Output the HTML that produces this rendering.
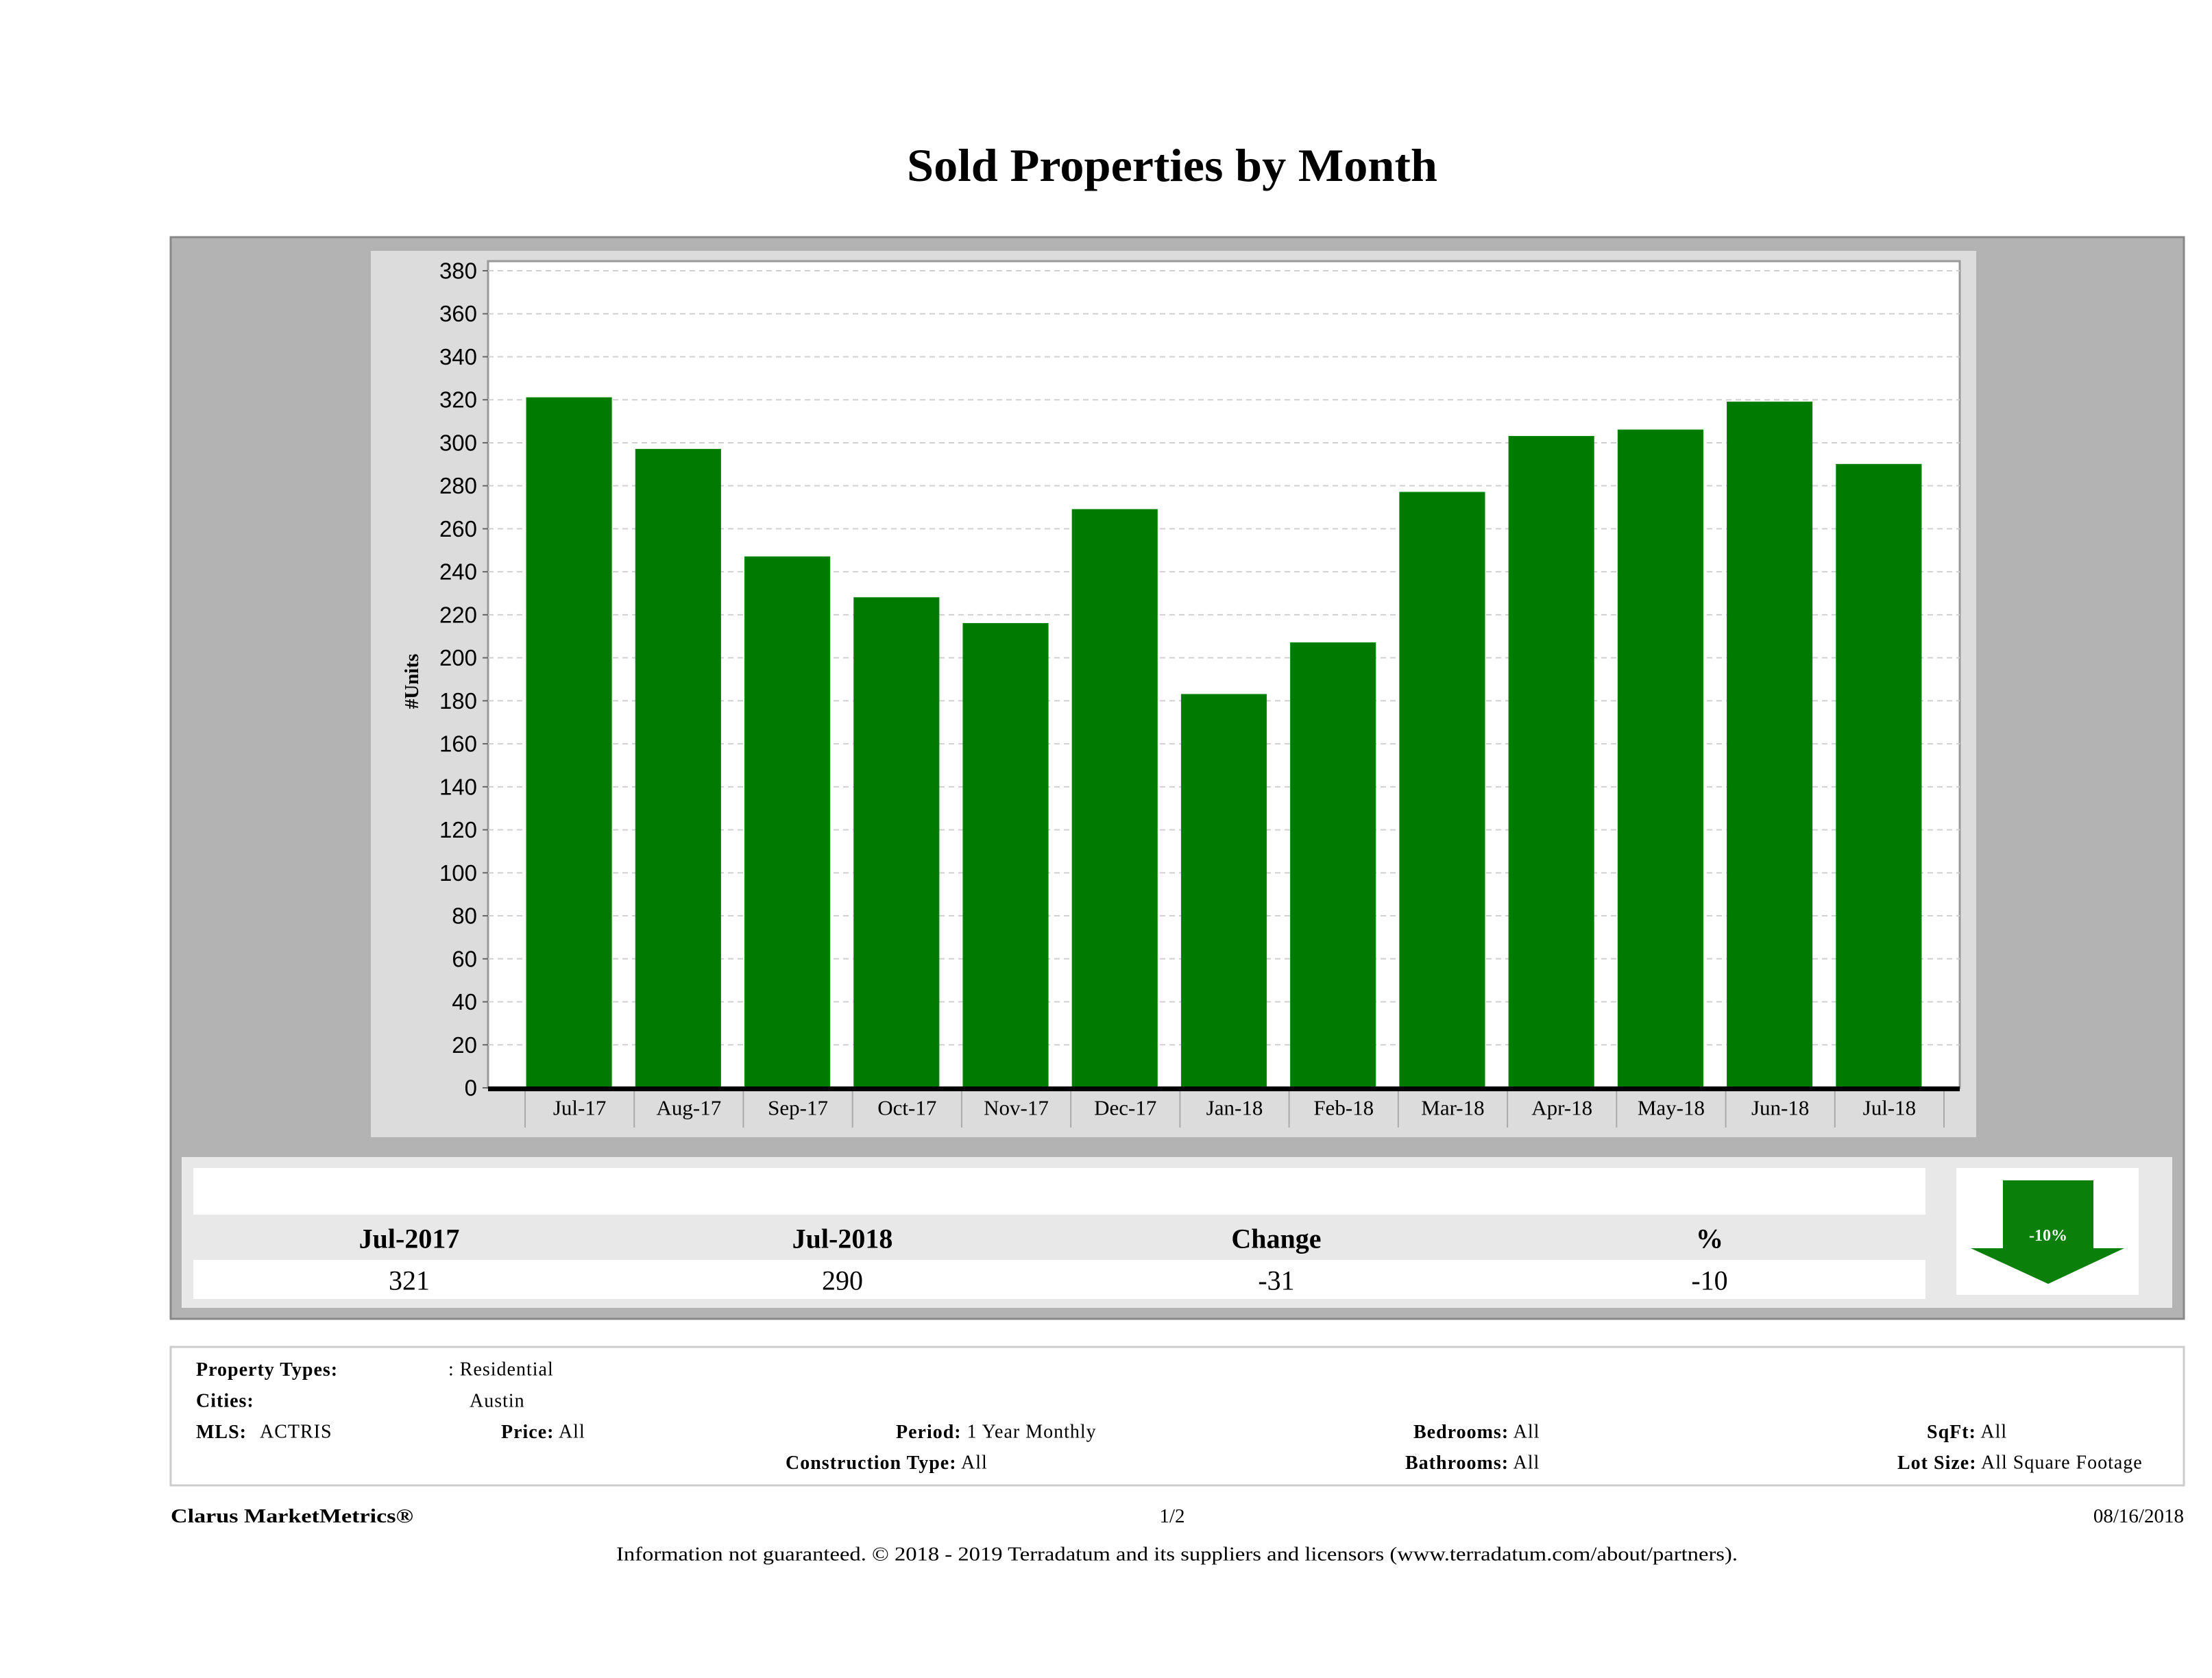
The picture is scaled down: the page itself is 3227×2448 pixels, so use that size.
<!DOCTYPE html>
<html><head><meta charset="utf-8"><style>
html,body{margin:0;padding:0;background:#fff;}
svg{display:block;}
text{font-family:"Liberation Serif",serif;}
</style></head><body>
<svg id="chart" width="3227" height="2448" viewBox="0 0 3227 2448" xmlns="http://www.w3.org/2000/svg">
<text x="1710" y="241" text-anchor="middle" dominant-baseline="central" font-size="68" font-weight="bold" fill="#000" textLength="774" lengthAdjust="spacingAndGlyphs">Sold Properties by Month</text>
<rect x="249" y="346" width="2937" height="1578" fill="#b3b3b3" stroke="#888" stroke-width="3"/>
<rect x="541" y="366" width="2342" height="1293" fill="#dcdcdc"/>
<rect x="712" y="381" width="2147" height="1206" fill="#fff" stroke="#999" stroke-width="3"/>
<g id="grid"></g>
<g id="bars"></g>
<g id="yaxis"></g>
<g id="xaxis"></g>
<text transform="translate(601,994) rotate(-90)" text-anchor="middle" dominant-baseline="central" font-size="29" font-weight="bold">#Units</text>

<rect x="265" y="1688" width="2904" height="220" fill="#e8e8e8"/>
<rect x="282" y="1704" width="2527" height="68" fill="#fff"/>
<rect x="282" y="1838" width="2527" height="57" fill="#fff"/>
<g font-size="40" font-weight="bold" text-anchor="middle" dominant-baseline="central">
<text x="597" y="1807">Jul-2017</text>
<text x="1229" y="1807">Jul-2018</text>
<text x="1862" y="1807">Change</text>
<text x="2494" y="1807">%</text>
</g>
<g font-size="40" text-anchor="middle" dominant-baseline="central">
<text x="597" y="1868">321</text>
<text x="1229" y="1868">290</text>
<text x="1862" y="1868">-31</text>
<text x="2494" y="1868">-10</text>
</g>
<rect x="2854" y="1704" width="266" height="185" fill="#fff"/>
<polygon points="2922,1722 3054,1722 3054,1821 3099,1821 2988,1873 2875,1821 2922,1821" fill="#0a7f0a"/>
<text x="2988" y="1803" text-anchor="middle" dominant-baseline="central" font-size="24" font-weight="bold" fill="#fff">-10%</text>

<rect x="249" y="1965" width="2937" height="202" fill="#fff" stroke="#ccc" stroke-width="3"/>
<g font-size="28" dominant-baseline="central" letter-spacing="1">
<text x="286" y="1998"><tspan font-weight="bold">Property Types:</tspan></text>
<text x="654" y="1998">: Residential</text>
<text x="286" y="2044" font-weight="bold">Cities:</text>
<text x="685" y="2044">Austin</text>
<text x="286" y="2089"><tspan font-weight="bold">MLS:</tspan></text>
<text x="379" y="2089">ACTRIS</text>
<text x="731" y="2089"><tspan font-weight="bold">Price:</tspan> All</text>
<text x="1307" y="2089"><tspan font-weight="bold">Period:</tspan> 1 Year Monthly</text>
<text x="2062" y="2089"><tspan font-weight="bold">Bedrooms:</tspan> All</text>
<text x="2811" y="2089"><tspan font-weight="bold">SqFt:</tspan>  All</text>
<text x="1146" y="2134"><tspan font-weight="bold">Construction Type:</tspan> All</text>
<text x="2050" y="2134"><tspan font-weight="bold">Bathrooms:</tspan> All</text>
<text x="2768" y="2134"><tspan font-weight="bold">Lot Size:</tspan>  All Square Footage</text>
</g>
<g font-size="29" dominant-baseline="central">
<text x="249" y="2212" font-weight="bold" textLength="354" lengthAdjust="spacingAndGlyphs">Clarus MarketMetrics®</text>
<text x="1710" y="2212" text-anchor="middle">1/2</text>
<text x="3186" y="2212" text-anchor="end">08/16/2018</text>
<text x="899" y="2268" font-size="28" textLength="1636" lengthAdjust="spacingAndGlyphs">Information not guaranteed. © 2018 - 2019 Terradatum and its suppliers and licensors (www.terradatum.com/about/partners).</text>
</g>
</svg>
<script>
const categories = ["Jul-17","Aug-17","Sep-17","Oct-17","Nov-17","Dec-17","Jan-18","Feb-18","Mar-18","Apr-18","May-18","Jun-18","Jul-18"];
const soldUnits = [321,297,247,228,216,269,183,207,277,303,306,319,290];
const yTicks = [0,20,40,60,80,100,120,140,160,180,200,220,240,260,280,300,320,340,360,380];

const NS = "http://www.w3.org/2000/svg";
const plotL = 712, plotR = 2859, y0 = 1587, yTop = 395;
const bandStart = 766, bandEnd = 2836;
const yScale = v => y0 - (v / 380) * (y0 - yTop);
const band = (bandEnd - bandStart) / categories.length;
const xScale = i => bandStart + i * band;
function mk(tag, attrs, parent) {
  const e = document.createElementNS(NS, tag);
  for (const k in attrs) e.setAttribute(k, attrs[k]);
  parent.appendChild(e);
  return e;
}
const grid = document.getElementById('grid');
const yaxis = document.getElementById('yaxis');
yTicks.forEach(t => {
  const y = yScale(t);
  if (t > 0) {
    const g = mk('line', {x1: plotL, x2: plotR, y1: y, y2: y, stroke: '#d0d0d0', 'stroke-width': 2, 'stroke-dasharray': '8,6'}, grid);
    
    
  }
  const tk = mk('line', {x1: plotL - 8, x2: plotL, y1: y, y2: y, stroke: '#666', 'stroke-width': 2}, yaxis);
  
  
  const tx = mk('text', {x: 696, y: y, 'text-anchor': 'end', 'dominant-baseline': 'central', 'font-size': 33, style: 'font-family:"Liberation Sans",sans-serif'}, yaxis);
  tx.textContent = t;
  
  
});
const bars = document.getElementById('bars');
const barW = band * 0.78;
soldUnits.forEach((v, i) => {
  const x = xScale(i) + 2;
  const r = mk('rect', {x: x, y: yScale(v), width: barW, height: y0 - yScale(v), fill: '#007a00', stroke: '#0a8a0a', 'stroke-width': 1}, bars);
  
  
});
const xaxis = document.getElementById('xaxis');
const ax = mk('rect', {x: plotL, y: y0 - 2, width: plotR - plotL, height: 7, fill: '#000'}, xaxis);


for (let i = 0; i <= categories.length; i++) {
  const x = xScale(i);
  const l = mk('line', {x1: x, x2: x, y1: y0 + 5, y2: 1645, stroke: '#aaa', 'stroke-width': 2}, xaxis);
  
  
}
categories.forEach((c, i) => {
  const t = mk('text', {x: xScale(i) + band / 2, y: 1616, 'text-anchor': 'middle', 'dominant-baseline': 'central', 'font-size': 31}, xaxis);
  t.textContent = c;
  
  
});
</script>
</body></html>
